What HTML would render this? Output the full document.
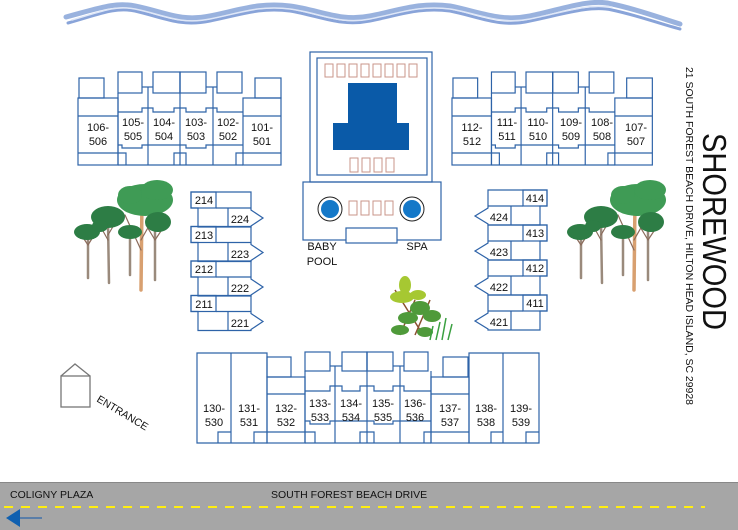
<!DOCTYPE html>
<html><head><meta charset="utf-8"><style>
html,body{margin:0;padding:0;background:#fff;}
svg{display:block;}
text{font-family:"Liberation Sans",sans-serif;}
</style></head><body>
<svg width="738" height="530" viewBox="0 0 738 530" xmlns="http://www.w3.org/2000/svg">
<!-- waves -->
<g fill="none" stroke-linecap="round">
<path d="M66,17 C100,8 115,2 135,6 C165,12 180,22 210,16 C240,10 260,2 290,6 C320,10 340,22 370,16 C400,10 420,2 450,6 C480,12 500,22 530,16 C560,10 590,-2 612,4 C640,10 660,18 680,24" stroke="#7f9fd6" stroke-width="5" opacity="0.8"/>
<path d="M68,23 C100,14 115,7 135,11 C165,18 180,27 210,21 C240,15 260,7 290,11 C320,16 340,27 370,21 C400,15 420,7 450,11 C480,17 500,28 530,21 C560,15 590,5 612,10 C640,16 660,24 680,29" stroke="#6b8dd0" stroke-width="3" opacity="0.8"/>
<path d="M72,20 C100,12 115,5 135,9 C165,15 180,25 210,19 C240,13 260,5 290,9 C320,13 340,25 370,19 C400,13 420,5 450,9 C480,14 500,25 530,19 C560,13 590,3 612,7" stroke="#dfe7f7" stroke-width="1.5"/>
</g>

<g fill="none" stroke="#2e63a8" stroke-width="1.2">
<!-- top left block (template) -->
<g id="tb">
<rect x="79" y="78" width="25" height="20"/>
<rect x="78" y="98" width="40" height="67"/>
<line x1="78" y1="116" x2="118" y2="116"/><line x1="78" y1="153" x2="118" y2="153"/>
<rect x="255" y="78" width="26" height="20"/>
<rect x="243" y="98" width="38" height="67"/>
<line x1="243" y1="116" x2="281" y2="116"/><line x1="243" y1="153" x2="281" y2="153"/>
<rect x="118" y="72" width="24" height="21"/>
<rect x="153" y="72" width="27" height="21"/>
<rect x="180" y="72" width="26" height="21"/>
<rect x="217" y="72" width="25" height="21"/>
<polyline points="142,87 153,87"/><polyline points="206,87 217,87"/>
<line x1="118" y1="93" x2="118" y2="165"/>
<line x1="148" y1="87" x2="148" y2="165"/>
<line x1="180" y1="72" x2="180" y2="165"/>
<line x1="213" y1="87" x2="213" y2="165"/>
<polyline points="118,112 142,112 142,108 153,108 153,112 174,112 174,108 186,108 186,112 206,112 206,108 217,108 217,112 243,112"/>
<polyline points="118,145 122,145 122,148 142,148 142,145 186,145 186,148 206,148 206,145 243,145"/>
<polyline points="118,153 126,153 126,165"/>
<polyline points="180,153 174,153 174,165"/>
<polyline points="180,153 186,153 186,165"/>
<polyline points="243,153 236,153 236,165"/>
<line x1="118" y1="165" x2="243" y2="165"/>
</g>
<use href="#tb" transform="translate(375,0) scale(0.987,1)"/>

<!-- pool building -->
<rect x="310" y="52" width="122" height="130"/>
<rect x="317" y="58" width="110" height="117"/>
<rect x="303" y="182" width="138" height="58"/>
<rect x="346" y="228" width="51" height="15" fill="#fff"/>
</g>
<path d="M348,83 H397 V123 H409 V150 H333 V123 H348 Z" fill="#0a5aa8"/>
<g fill="none" stroke="#c9948a" stroke-width="1">
<rect x="325" y="64" width="8" height="13"/><rect x="337" y="64" width="8" height="13"/><rect x="349" y="64" width="8" height="13"/><rect x="361" y="64" width="8" height="13"/><rect x="373" y="64" width="8" height="13"/><rect x="385" y="64" width="8" height="13"/><rect x="397" y="64" width="8" height="13"/><rect x="409" y="64" width="8" height="13"/>
<rect x="350" y="158" width="8" height="14"/><rect x="362" y="158" width="8" height="14"/><rect x="374" y="158" width="8" height="14"/><rect x="386" y="158" width="8" height="14"/>
<rect x="349" y="201" width="8" height="14"/><rect x="361" y="201" width="8" height="14"/><rect x="373" y="201" width="8" height="14"/><rect x="385" y="201" width="8" height="14"/>
</g>
<circle cx="330" cy="209" r="12" fill="#fff" stroke="#222" stroke-width="1"/>
<circle cx="330" cy="209" r="9" fill="#1478c8"/>
<circle cx="412" cy="209" r="12" fill="#fff" stroke="#222" stroke-width="1"/>
<circle cx="412" cy="209" r="9" fill="#1478c8"/>

<!-- left 2xx column -->
<g fill="none" stroke="#2e63a8" stroke-width="1.2">
<g id="lc">
<path d="M191,192 H251 V210 L263,218 L251,226 V227 H198 V208 H191 Z"/>
<rect x="191" y="192" width="25" height="16"/>
<line x1="228" y1="208" x2="228" y2="227"/><line x1="216" y1="208" x2="251" y2="208"/>
</g>
<use href="#lc" transform="translate(0,34.5)"/>
<use href="#lc" transform="translate(0,69)"/>
<use href="#lc" transform="translate(0,103.5)"/>
<!-- right 4xx column -->
<g id="rc">
<path d="M488,190 H547 V206 H540 V225 H488 V224 L475,216 L488,208 Z"/>
<rect x="523" y="190" width="24" height="16"/>
<line x1="511" y1="206" x2="511" y2="225"/><line x1="488" y1="206" x2="523" y2="206"/>
</g>
<use href="#rc" transform="translate(0,35)"/>
<use href="#rc" transform="translate(0,70)"/>
<use href="#rc" transform="translate(0,105)"/>

<!-- bottom block -->
<path d="M197,353 H267 V443 H197 Z"/>
<line x1="231" y1="353" x2="231" y2="443"/>
<polyline points="218,443 218,432 231,432"/>
<polyline points="254,443 254,432 267,432"/>
<rect x="267" y="357" width="24" height="20"/>
<rect x="267" y="377" width="38" height="66"/>
<line x1="267" y1="394" x2="305" y2="394"/><line x1="267" y1="432" x2="305" y2="432"/>
<rect x="305" y="352" width="25" height="19"/>
<rect x="342" y="352" width="25" height="19"/>
<rect x="367" y="352" width="26" height="19"/>
<rect x="404" y="352" width="24" height="19"/>
<polyline points="330,366 342,366"/><polyline points="393,366 404,366"/>
<line x1="305" y1="371" x2="305" y2="443"/>
<line x1="335" y1="366" x2="335" y2="443"/>
<line x1="367" y1="352" x2="367" y2="443"/>
<line x1="400" y1="366" x2="400" y2="443"/>
<line x1="431" y1="371" x2="431" y2="443"/>
<polyline points="305,391 330,391 330,386 342,386 342,391 360,391 360,386 374,386 374,391 393,391 393,386 404,386 404,391 431,391"/>
<polyline points="305,421 310,421 310,424 330,424 330,421 374,421 374,424 393,424 393,421 431,421"/>
<polyline points="305,432 315,432 315,443"/>
<polyline points="367,432 360,432 360,443"/>
<polyline points="367,432 374,432 374,443"/>
<polyline points="431,432 424,432 424,443"/>
<line x1="305" y1="443" x2="431" y2="443"/>
<rect x="443" y="357" width="25" height="20"/>
<rect x="431" y="377" width="38" height="66"/>
<line x1="431" y1="394" x2="469" y2="394"/><line x1="431" y1="432" x2="469" y2="432"/>
<path d="M469,353 H539 V443 H469 Z"/>
<line x1="503" y1="353" x2="503" y2="443"/>
<polyline points="491,443 491,432 503,432"/>
<polyline points="526,443 526,432 539,432"/>
</g>

<!-- labels -->
<g font-size="11" fill="#111" text-anchor="middle">
<text x="98" y="131">106-</text><text x="98" y="145">506</text>
<text x="133" y="126">105-</text><text x="133" y="140">505</text>
<text x="164" y="126">104-</text><text x="164" y="140">504</text>
<text x="196" y="126">103-</text><text x="196" y="140">503</text>
<text x="228" y="126">102-</text><text x="228" y="140">502</text>
<text x="262" y="131">101-</text><text x="262" y="145">501</text>
<text x="472" y="131">112-</text><text x="472" y="145">512</text>
<text x="507" y="126">111-</text><text x="507" y="140">511</text>
<text x="538" y="126">110-</text><text x="538" y="140">510</text>
<text x="571" y="126">109-</text><text x="571" y="140">509</text>
<text x="602" y="126">108-</text><text x="602" y="140">508</text>
<text x="636" y="131">107-</text><text x="636" y="145">507</text>
<text x="214" y="412">130-</text><text x="214" y="426">530</text>
<text x="249" y="412">131-</text><text x="249" y="426">531</text>
<text x="286" y="412">132-</text><text x="286" y="426">532</text>
<text x="320" y="407">133-</text><text x="320" y="421">533</text>
<text x="351" y="407">134-</text><text x="351" y="421">534</text>
<text x="383" y="407">135-</text><text x="383" y="421">535</text>
<text x="415" y="407">136-</text><text x="415" y="421">536</text>
<text x="450" y="412">137-</text><text x="450" y="426">537</text>
<text x="486" y="412">138-</text><text x="486" y="426">538</text>
<text x="521" y="412">139-</text><text x="521" y="426">539</text>
<text x="204" y="204">214</text><text x="240" y="223">224</text>
<text x="204" y="239">213</text><text x="240" y="258">223</text>
<text x="204" y="273">212</text><text x="240" y="292">222</text>
<text x="204" y="308">211</text><text x="240" y="327">221</text>
<text x="535" y="202">414</text><text x="499" y="221">424</text>
<text x="535" y="237">413</text><text x="499" y="256">423</text>
<text x="535" y="272">412</text><text x="499" y="291">422</text>
<text x="535" y="307">411</text><text x="499" y="326">421</text>
<text x="322" y="250">BABY</text><text x="322" y="265">POOL</text>
<text x="417" y="250">SPA</text>
</g>

<!-- trees -->
<g id="trees">
<g stroke-linecap="round">
<line x1="88" y1="238" x2="88" y2="278" stroke="#9a8a7c" stroke-width="2.5"/>
<line x1="108" y1="222" x2="109" y2="283" stroke="#9a8a7c" stroke-width="2.5"/>
<line x1="130" y1="238" x2="130" y2="275" stroke="#9a8a7c" stroke-width="2.5"/>
<line x1="155" y1="225" x2="155" y2="280" stroke="#9a8a7c" stroke-width="2.5"/>
<line x1="142" y1="200" x2="141" y2="290" stroke="#d8a070" stroke-width="3.5"/>
<path d="M141,250 L125,215 M141,240 L158,210 M108,240 L98,222 M108,235 L118,218 M88,245 L80,233 M88,245 L96,232 M155,240 L165,225 M155,240 L146,225" stroke="#8a6a5a" stroke-width="1.2" fill="none"/>
</g>
<g fill="#3f9b55">
<ellipse cx="145" cy="200" rx="28" ry="16"/>
<ellipse cx="157" cy="190" rx="16" ry="10"/>
<ellipse cx="130" cy="195" rx="12" ry="9"/>
</g>
<g fill="#2d7d45">
<ellipse cx="108" cy="217" rx="17" ry="11"/>
<ellipse cx="158" cy="222" rx="13" ry="10"/>
<ellipse cx="130" cy="232" rx="12" ry="7"/>
<ellipse cx="87" cy="232" rx="13" ry="8"/>
<ellipse cx="100" cy="226" rx="8" ry="6"/>
</g>
</g>
<use href="#trees" transform="translate(493,0)"/>

<!-- bush -->
<g>
<path d="M400,335 L415,300 M415,335 L430,300 M420,330 L395,290" stroke="#8a5030" stroke-width="1.5" fill="none"/>
<g fill="#a6c832">
<ellipse cx="402" cy="297" rx="12" ry="6"/>
<ellipse cx="405" cy="285" rx="6" ry="9"/>
<ellipse cx="418" cy="295" rx="8" ry="5"/>
</g>
<g fill="#4f9a3a">
<ellipse cx="420" cy="308" rx="10" ry="7"/>
<ellipse cx="432" cy="316" rx="9" ry="6"/>
<ellipse cx="408" cy="318" rx="10" ry="6"/>
<ellipse cx="400" cy="330" rx="9" ry="5"/>
<ellipse cx="425" cy="332" rx="8" ry="5"/>
</g>
<path d="M436,340 L440,322 M442,340 L446,318 M448,340 L452,324 M430,340 L433,326" stroke="#3aa040" stroke-width="1.5"/>
</g>

<!-- entrance -->
<g fill="none" stroke="#777" stroke-width="1.3">
<rect x="61" y="376" width="29" height="31"/>
<polyline points="61,376 75,364 90,376"/>
</g>
<text x="0" y="0" font-size="10.5" fill="#111" transform="translate(96,401) rotate(31)">ENTRANCE</text>

<!-- title -->
<text x="0" y="0" font-size="33" fill="#111" textLength="197" lengthAdjust="spacingAndGlyphs" transform="translate(703,133) rotate(90)">SHOREWOOD</text>
<text x="0" y="0" font-size="10.5" fill="#111" textLength="338" lengthAdjust="spacingAndGlyphs" transform="translate(686,67) rotate(90)">21 SOUTH FOREST BEACH DRIVE, HILTON HEAD ISLAND, SC 29928</text>

<!-- road -->
<rect x="0" y="482" width="738" height="48" fill="#a6a6a6"/>
<line x1="0" y1="482.5" x2="738" y2="482.5" stroke="#888" stroke-width="1"/>
<line x1="4" y1="507" x2="705" y2="507" stroke="#ffee10" stroke-width="2" stroke-dasharray="9,8"/>
<line x1="18" y1="518" x2="42" y2="518" stroke="#5a7ea8" stroke-width="2"/>
<path d="M6,518 L20,509 L20,527 Z" fill="#1060b0"/>
<text x="10" y="498" font-size="10.5" fill="#111">COLIGNY PLAZA</text>
<text x="271" y="498" font-size="10.5" fill="#111">SOUTH FOREST BEACH DRIVE</text>
</svg>
</body></html>
